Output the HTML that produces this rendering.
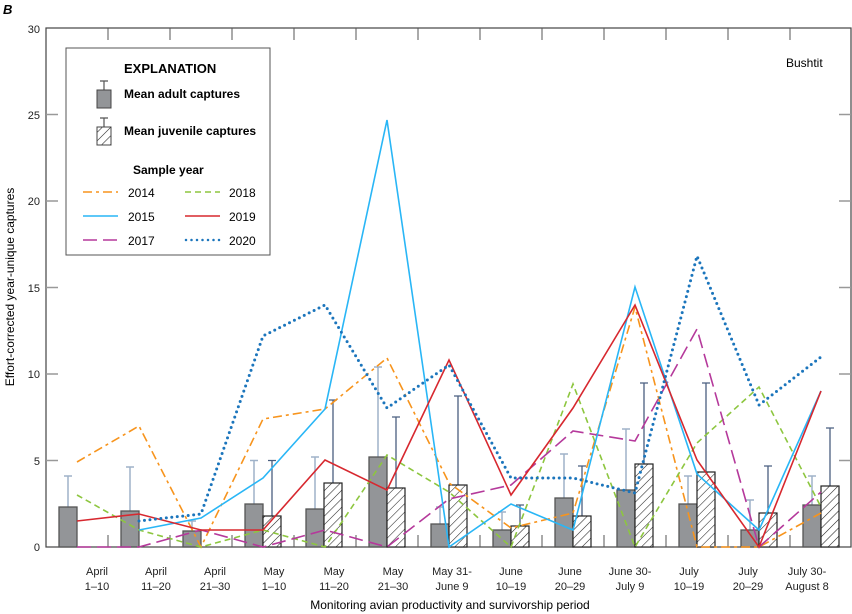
<!DOCTYPE html>
<html><head><meta charset="utf-8"><style>
body{margin:0;background:#fff;}
svg{display:block;font-family:"Liberation Sans",Arial,sans-serif;}
</style></head><body>
<svg width="852" height="614" viewBox="0 0 852 614" xmlns="http://www.w3.org/2000/svg">
<defs>
<pattern id="h" patternUnits="userSpaceOnUse" width="6" height="6" patternTransform="rotate(45)">
<rect width="6" height="6" fill="#fff"/><line x1="0" y1="0" x2="0" y2="6" stroke="#222" stroke-width="1.1"/>
</pattern>
</defs>
<text x="3" y="14" font-size="13" font-weight="bold" font-style="italic">B</text>
<!-- axes -->
<g stroke="#444" stroke-width="1.2" fill="none">
<rect x="46" y="28" width="805" height="519"/>
</g>
<g stroke="#999" stroke-width="1.5">
<line x1="46" y1="114.5" x2="58" y2="114.5"/><line x1="46" y1="201" x2="58" y2="201"/><line x1="46" y1="287.5" x2="58" y2="287.5"/><line x1="46" y1="374" x2="58" y2="374"/><line x1="46" y1="460.5" x2="58" y2="460.5"/>
<line x1="839" y1="114.5" x2="851" y2="114.5"/><line x1="839" y1="201" x2="851" y2="201"/><line x1="839" y1="287.5" x2="851" y2="287.5"/><line x1="839" y1="374" x2="851" y2="374"/><line x1="839" y1="460.5" x2="851" y2="460.5"/>
</g>
<g stroke="#555" stroke-width="1">
<line x1="108" y1="535" x2="108" y2="547"/><line x1="170" y1="535" x2="170" y2="547"/><line x1="232" y1="535" x2="232" y2="547"/><line x1="294" y1="535" x2="294" y2="547"/><line x1="356" y1="535" x2="356" y2="547"/><line x1="418" y1="535" x2="418" y2="547"/><line x1="480" y1="535" x2="480" y2="547"/><line x1="542" y1="535" x2="542" y2="547"/><line x1="604" y1="535" x2="604" y2="547"/><line x1="666" y1="535" x2="666" y2="547"/><line x1="728" y1="535" x2="728" y2="547"/><line x1="790" y1="535" x2="790" y2="547"/>
<line x1="108" y1="28" x2="108" y2="40"/><line x1="170" y1="28" x2="170" y2="40"/><line x1="232" y1="28" x2="232" y2="40"/><line x1="294" y1="28" x2="294" y2="40"/><line x1="356" y1="28" x2="356" y2="40"/><line x1="418" y1="28" x2="418" y2="40"/><line x1="480" y1="28" x2="480" y2="40"/><line x1="542" y1="28" x2="542" y2="40"/><line x1="604" y1="28" x2="604" y2="40"/><line x1="666" y1="28" x2="666" y2="40"/><line x1="728" y1="28" x2="728" y2="40"/><line x1="790" y1="28" x2="790" y2="40"/>
</g>
<g font-size="11" text-anchor="end" fill="#222">
<text x="40" y="33">30</text><text x="40" y="119">25</text><text x="40" y="205">20</text><text x="40" y="292">15</text><text x="40" y="378">10</text><text x="40" y="465">5</text><text x="40" y="551">0</text>
</g>
<text transform="translate(14,287) rotate(-90)" font-size="12" text-anchor="middle">Effort-corrected year-unique captures</text>
<text x="450" y="609" font-size="12" text-anchor="middle">Monitoring avian productivity and survivorship period</text>
<text x="786" y="67" font-size="12">Bushtit</text>
<g font-size="11" text-anchor="middle" fill="#222">
<text x="97" y="575">April</text><text x="97" y="590">1–10</text>
<text x="156" y="575">April</text><text x="156" y="590">11–20</text>
<text x="215" y="575">April</text><text x="215" y="590">21–30</text>
<text x="274" y="575">May</text><text x="274" y="590">1–10</text>
<text x="334" y="575">May</text><text x="334" y="590">11–20</text>
<text x="393" y="575">May</text><text x="393" y="590">21–30</text>
<text x="452" y="575">May 31-</text><text x="452" y="590">June 9</text>
<text x="511" y="575">June</text><text x="511" y="590">10–19</text>
<text x="570" y="575">June</text><text x="570" y="590">20–29</text>
<text x="630" y="575">June 30-</text><text x="630" y="590">July 9</text>
<text x="689" y="575">July</text><text x="689" y="590">10–19</text>
<text x="748" y="575">July</text><text x="748" y="590">20–29</text>
<text x="807" y="575">July 30-</text><text x="807" y="590">August 8</text>
</g>
<g stroke="#9fb2c9" stroke-width="1.5" fill="none">
<path d="M68 547V476M64 476H72"/>
<path d="M130 547V467M126 467H134"/>
<path d="M192 547V521M188 521H196"/>
<path d="M254 547V460.5M250 460.5H258"/>
<path d="M315 547V457M311 457H319"/>
<path d="M378 547V367M374 367H382"/>
<path d="M440 547V507M436 507H444"/>
<path d="M502 547V512M498 512H506"/>
<path d="M564 547V454M560 454H568"/>
<path d="M626 547V429M622 429H630"/>
<path d="M688 547V476M684 476H692"/>
<path d="M750 547V500M746 500H754"/>
<path d="M812 547V476M808 476H816"/>
</g>
<g stroke="#4a5f80" stroke-width="1.3" fill="none">
<path d="M272 547V460.5M268 460.5H276"/>
<path d="M333 547V400M329 400H337"/>
<path d="M396 547V417M392 417H400"/>
<path d="M458 547V396M454 396H462"/>
<path d="M520 547V505M516 505H524"/>
<path d="M582 547V466M578 466H586"/>
<path d="M644 547V383M640 383H648"/>
<path d="M706 547V383M702 383H710"/>
<path d="M768 547V466M764 466H772"/>
<path d="M830 547V428M826 428H834"/>
</g>
<g fill="#939598" stroke="#555" stroke-width="1.3">
<rect x="59" y="507" width="18" height="40"/>
<rect x="121" y="511" width="18" height="36"/>
<rect x="183" y="531" width="18" height="16"/>
<rect x="245" y="504" width="18" height="43"/>
<rect x="306" y="509" width="18" height="38"/>
<rect x="369" y="457" width="18" height="90"/>
<rect x="431" y="524" width="18" height="23"/>
<rect x="493" y="530" width="18" height="17"/>
<rect x="555" y="498" width="18" height="49"/>
<rect x="617" y="490" width="18" height="57"/>
<rect x="679" y="504" width="18" height="43"/>
<rect x="741" y="530" width="18" height="17"/>
<rect x="803" y="505" width="18" height="42"/>
</g>
<g fill="url(#h)" stroke="#222" stroke-width="1.2">
<rect x="263" y="516" width="18" height="31"/>
<rect x="324" y="483" width="18" height="64"/>
<rect x="387" y="488" width="18" height="59"/>
<rect x="449" y="485" width="18" height="62"/>
<rect x="511" y="526" width="18" height="21"/>
<rect x="573" y="516" width="18" height="31"/>
<rect x="635" y="464" width="18" height="83"/>
<rect x="697" y="472" width="18" height="75"/>
<rect x="759" y="513" width="18" height="34"/>
<rect x="821" y="486" width="18" height="61"/>
</g>
<g fill="none" stroke-width="1.6">
<polyline stroke="#f7941d" stroke-dasharray="9,4,3,4" points="77,462 139,426 201,547 263,419 325,409 387,358 449,483 511,528 573,513 635,307 697,547 759,547 821,513"/>
<polyline stroke="#8dc63f" stroke-dasharray="6,4" points="77,495 139,530 201,547 263,530 325,547 387,455 449,492 511,547 573,384 635,547 697,443 759,387 821,507"/>
<polyline stroke="#b5399b" stroke-dasharray="14,6" points="77,547 139,547 201,530 263,547 325,530 387,547 449,499 511,485 573,431 635,441 697,329 759,547 821,492"/>
<polyline stroke="#29b6f6" points="139,530 201,518 263,478 325,409 387,120 449,547 511,504 573,530 635,287 697,474 759,530 821,391"/>
<polyline stroke="#d7282f" points="77,521 139,514 201,530 263,530 325,460 387,490 449,360 511,495 573,408 635,305 697,460 759,547 821,391"/>
<polyline stroke="#1b75bc" stroke-width="3" stroke-dasharray="0,5.5" stroke-linecap="round" points="139,521 201,514 263,336 325,305 387,408 449,365 511,478 573,478 635,493 697,256 759,405 821,357"/>
</g>
<rect x="66" y="48" width="204" height="207" fill="#fff" stroke="#555" stroke-width="1"/>
<text x="124" y="73" font-size="13" font-weight="bold">EXPLANATION</text>
<path d="M104 81V90M100 81H108" stroke="#555" stroke-width="1.2"/>
<rect x="97" y="90" width="14" height="18" fill="#939598" stroke="#444"/>
<text x="124" y="98" font-size="12" font-weight="bold">Mean adult captures</text>
<path d="M100 118H108M104 118V127" stroke="#555" stroke-width="1.2"/>
<rect x="97" y="127" width="14" height="18" fill="url(#h)" stroke="#444"/>
<text x="124" y="135" font-size="12" font-weight="bold">Mean juvenile captures</text>
<text x="133" y="174" font-size="12" font-weight="bold">Sample year</text>
<g font-size="12">
<text x="128" y="197">2014</text><text x="128" y="221">2015</text><text x="128" y="245">2017</text>
<text x="229" y="197">2018</text><text x="229" y="221">2019</text><text x="229" y="245">2020</text>
</g>
<g fill="none" stroke-width="1.6">
<line x1="83" y1="192" x2="118" y2="192" stroke="#f7941d" stroke-dasharray="9,4,3,4"/>
<line x1="83" y1="216" x2="118" y2="216" stroke="#29b6f6"/>
<line x1="83" y1="240" x2="118" y2="240" stroke="#b5399b" stroke-dasharray="14,6"/>
<line x1="185" y1="192" x2="220" y2="192" stroke="#8dc63f" stroke-dasharray="6,4"/>
<line x1="185" y1="216" x2="220" y2="216" stroke="#d7282f"/>
<line x1="186" y1="240" x2="220" y2="240" stroke="#1b75bc" stroke-width="2.5" stroke-dasharray="0,5.5" stroke-linecap="round"/>
</g>
</svg>
</body></html>
